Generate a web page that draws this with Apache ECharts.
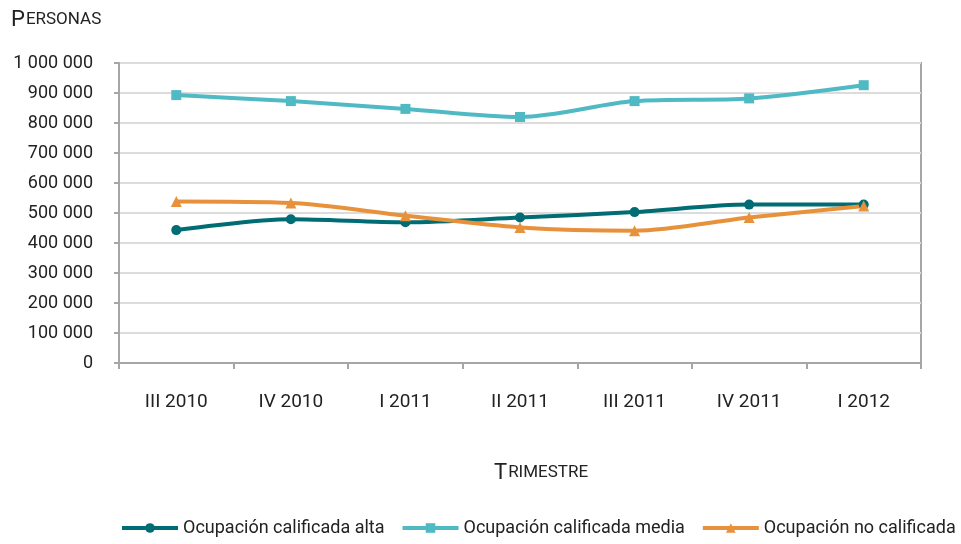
<!DOCTYPE html>
<html>
<head>
<meta charset="utf-8">
<script src="https://cdn.jsdelivr.net/npm/echarts@6/dist/echarts.min.js"></script>
<style>
  html, body { margin: 0; padding: 0; background: #fff; }
  #chart { width: 961px; height: 544px; }
</style>
</head>
<body>
<div id="chart"></div>
<script>
// trimestres
const categories = ['III 2010', 'IV 2010', 'I 2011', 'II 2011', 'III 2011', 'IV 2011', 'I 2012']
const seriesNames = ['Ocupación calificada alta', 'Ocupación calificada media', 'Ocupación no calificada']
const alta = [443000, 479000, 469000, 485000, 503000, 528000, 528000]
const media = [893000, 873000, 847000, 820000, 873000, 882000, 926000]
const noCalificada = [538000, 533000, 491000, 452000, 441000, 485000, 523000]

const font = 'Roboto, "Liberation Sans", sans-serif'
const colors = ['#006C74', '#4FBAC3', '#E8913B']

const fmt = v => String(v).replace(/\B(?=(\d{3})+(?!\d))/g, ' ')

const chart = echarts.init(document.getElementById('chart'))

function makeSeries(name, data, color, symbol, size) {
  return {
    name: name,
    type: 'line',
    smooth: 0.3,
    data: data,
    symbol: symbol,
    symbolSize: size,
    lineStyle: { width: 4, color: color },
    itemStyle: { color: color },
    animation: false
  }
}

const smallCaps = {
  a: { fontFamily: font, fontSize: 22, fontWeight: 'normal', color: '#222' },
  b: { fontFamily: font, fontSize: 17, fontWeight: 'normal', color: '#222', padding: [0, 0, 0, 1] }
}

chart.setOption({
  textStyle: { fontFamily: font },
  title: [{
    text: '{a|P}{b|ERSONAS}',
    left: 6,
    top: 4,
    textStyle: { fontWeight: 'normal', rich: smallCaps }
  }, {
    text: '{a|T}{b|RIMESTRE}',
    left: 489,
    top: 457,
    textStyle: { fontWeight: 'normal', rich: smallCaps }
  }],
  grid: {
    left: 119,
    right: 40,
    top: 63,
    bottom: 181,
    show: true,
    borderColor: '#a6a6a6',
    borderWidth: 2
  },
  legend: {
    bottom: 2,
    left: 115,
    itemWidth: 56,
    itemHeight: 12,
    itemGap: 16,
    lineStyle: { width: 4 },
    textStyle: { fontFamily: font, fontSize: 18, color: '#222' },
    data: seriesNames
  },
  xAxis: {
    type: 'category',
    data: categories,
    boundaryGap: true,
    axisLine: { lineStyle: { color: '#a6a6a6', width: 2 } },
    axisTick: { show: true, length: 6, lineStyle: { color: '#a6a6a6', width: 2 } },
    axisLabel: { margin: 30, fontFamily: font, fontSize: 19, color: '#222' }
  },
  yAxis: {
    type: 'value',
    min: 0,
    max: 1000000,
    interval: 100000,
    axisLine: { show: true, lineStyle: { color: '#a6a6a6', width: 2 } },
    axisTick: { show: true, length: 5, lineStyle: { color: '#a6a6a6', width: 2 } },
    axisLabel: { margin: 26, fontFamily: font, fontSize: 18, color: '#222', formatter: fmt },
    splitLine: { lineStyle: { color: '#dcdcdc', width: 2 } }
  },
  series: [
    makeSeries(seriesNames[0], alta, colors[0], 'circle', 10),
    makeSeries(seriesNames[1], media, colors[1], 'rect', 10),
    makeSeries(seriesNames[2], noCalificada, colors[2], 'triangle', 11)
  ]
})
</script>
</body>
</html>
